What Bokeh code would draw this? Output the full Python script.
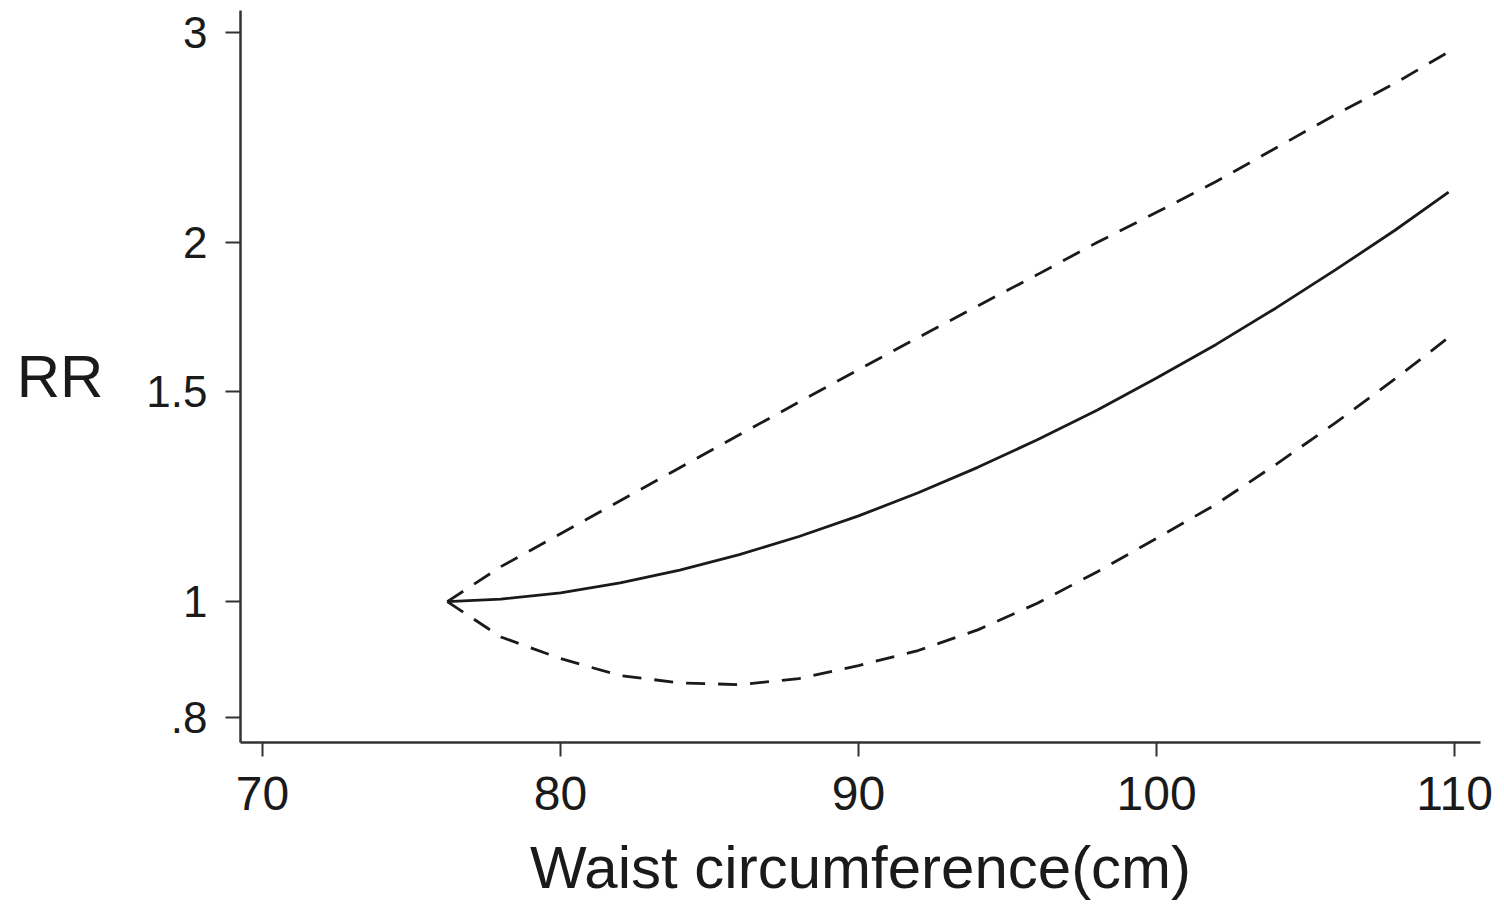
from bokeh.plotting import figure
from bokeh.models import FixedTicker
from bokeh.embed import file_html
from bokeh.resources import INLINE

# Waist circumference (cm) grid
waist = [76.2, 78, 80, 82, 84, 86, 88, 90, 92, 94, 96, 98, 100, 102, 104, 106, 108, 109.8]
# Relative risk estimate (solid)
rr = [1.000, 1.005, 1.017, 1.037, 1.063, 1.095, 1.134, 1.180, 1.234, 1.296, 1.367, 1.447,
      1.540, 1.643, 1.762, 1.897, 2.048, 2.204]
# Upper 95% CI (dashed)
rr_upper = [1.000, 1.070, 1.140, 1.215, 1.295, 1.380, 1.470, 1.565, 1.665, 1.770, 1.880, 2.000,
            2.120, 2.250, 2.400, 2.560, 2.720, 2.890]
# Lower 95% CI (dashed)
rr_lower = [1.000, 0.934, 0.896, 0.867, 0.855, 0.852, 0.862, 0.884, 0.910, 0.947, 0.997, 1.059,
            1.130, 1.207, 1.303, 1.412, 1.537, 1.665]

x_ticks = [70, 80, 90, 100, 110]
y_ticks = [0.8, 1, 1.5, 2, 3]
y_tick_labels = [".8", "1", "1.5", "2", "3"]
y_title = "RR"
x_title = "Waist circumference(cm)"

FONT = "Liberation Sans"
INK = "#1a1a1a"

p = figure(width=1504, height=905, y_axis_type="log",
           x_range=(69.26, 110.87), y_range=(0.762, 3.13),
           output_backend="svg", toolbar_location=None,
           min_border_left=240, min_border_right=24,
           min_border_top=10, min_border_bottom=163)

p.background_fill_color = "white"
p.border_fill_color = "white"
p.outline_line_color = None
p.xgrid.visible = False
p.ygrid.visible = False

p.line(waist, rr, line_color=INK, line_width=2.8)
p.line(waist, rr_upper, line_color=INK, line_width=2.8, line_dash="19 13")
p.line(waist, rr_lower, line_color=INK, line_width=2.8, line_dash="19 13")

xa = p.xaxis[0]
xa.ticker = FixedTicker(ticks=x_ticks)
xa.minor_tick_line_color = None
xa.major_tick_in = 0
xa.major_tick_out = 14
xa.major_tick_line_width = 2
xa.major_tick_line_color = "#333333"
xa.axis_line_width = 2.5
xa.axis_line_color = "#333333"
xa.major_label_text_font = FONT
xa.major_label_text_font_size = "48px"
xa.major_label_text_color = INK
xa.major_label_standoff = 20
xa.axis_label = x_title
xa.axis_label_text_font = FONT
xa.axis_label_text_font_size = "60px"
xa.axis_label_text_font_style = "normal"
xa.axis_label_text_color = INK
xa.axis_label_standoff = 21

ya = p.yaxis[0]
ya.ticker = FixedTicker(ticks=y_ticks)
ya.major_label_overrides = {t: s for t, s in zip(y_ticks, y_tick_labels)}
ya.minor_tick_line_color = None
ya.major_tick_in = 0
ya.major_tick_out = 15
ya.major_tick_line_width = 2
ya.major_tick_line_color = "#333333"
ya.axis_line_width = 2.5
ya.axis_line_color = "#333333"
ya.major_label_text_font = FONT
ya.major_label_text_font_size = "44px"
ya.major_label_text_color = INK
ya.major_label_standoff = 18
ya.axis_label = y_title
ya.axis_label_orientation = "horizontal"
ya.axis_label_text_font = FONT
ya.axis_label_text_font_size = "60px"
ya.axis_label_text_font_style = "normal"
ya.axis_label_text_color = INK
ya.axis_label_standoff = 40

open("out.html", "w").write(file_html(p, INLINE))
